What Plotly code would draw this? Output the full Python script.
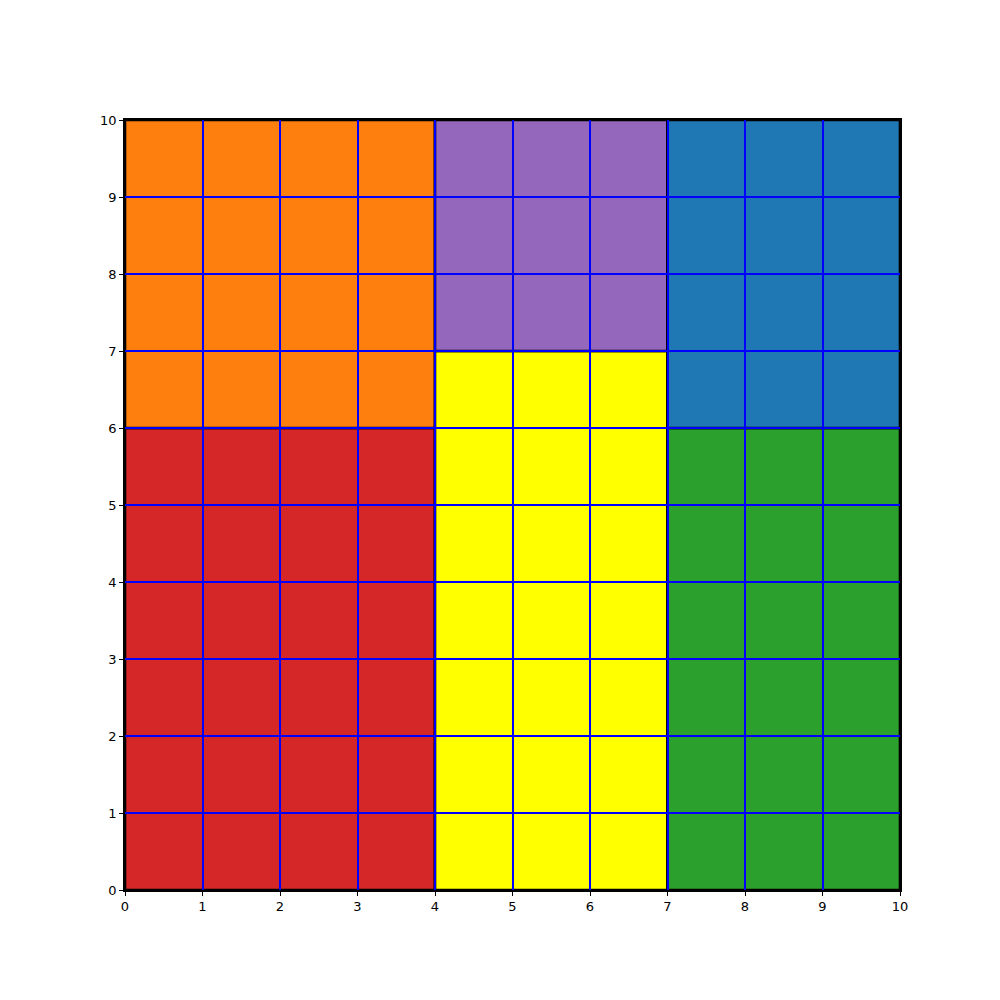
import plotly.graph_objects as go

# rectangles: x0, y0, x1, y1, color
rect_x0 = [0, 0, 4, 4, 7, 7]
rect_y0 = [0, 6, 0, 7, 0, 6]
rect_x1 = [4, 4, 7, 7, 10, 10]
rect_y1 = [6, 10, 7, 10, 6, 10]
rect_colors = ["#d62728", "#ff7f0e", "#ffff00", "#9467bd", "#2ca02c", "#1f77b4"]
tick_vals = list(range(0, 11))

fig = go.Figure()
# invisible trace to establish axes
fig.add_trace(go.Scatter(x=[0, 10], y=[0, 10], mode="markers",
                         marker=dict(opacity=0), showlegend=False, hoverinfo="skip"))

for x0, y0, x1, y1, c in zip(rect_x0, rect_y0, rect_x1, rect_y1, rect_colors):
    fig.add_shape(type="rect", x0=x0, y0=y0, x1=x1, y1=y1, xref="x", yref="y",
                  fillcolor=c, line=dict(color="black", width=2.6), layer="below")

axis_common = dict(
    range=[0, 10], tickvals=tick_vals, ticktext=[str(v) for v in tick_vals],
    showgrid=True, gridcolor="#0000ff", gridwidth=1.5, zeroline=False,
    showline=True, linecolor="black", linewidth=1.5, mirror=True,
    ticks="outside", ticklen=4, tickcolor="black", tickwidth=1,
    tickfont=dict(family="DejaVu Sans", size=13, color="black"),
)
fig.update_xaxes(**axis_common)
fig.update_yaxes(**axis_common)

fig.update_layout(
    width=1000, height=1000,
    margin=dict(l=125, r=100, t=120, b=110),
    plot_bgcolor="white", paper_bgcolor="white",
    showlegend=False,
)
fig.write_html("out.html")
